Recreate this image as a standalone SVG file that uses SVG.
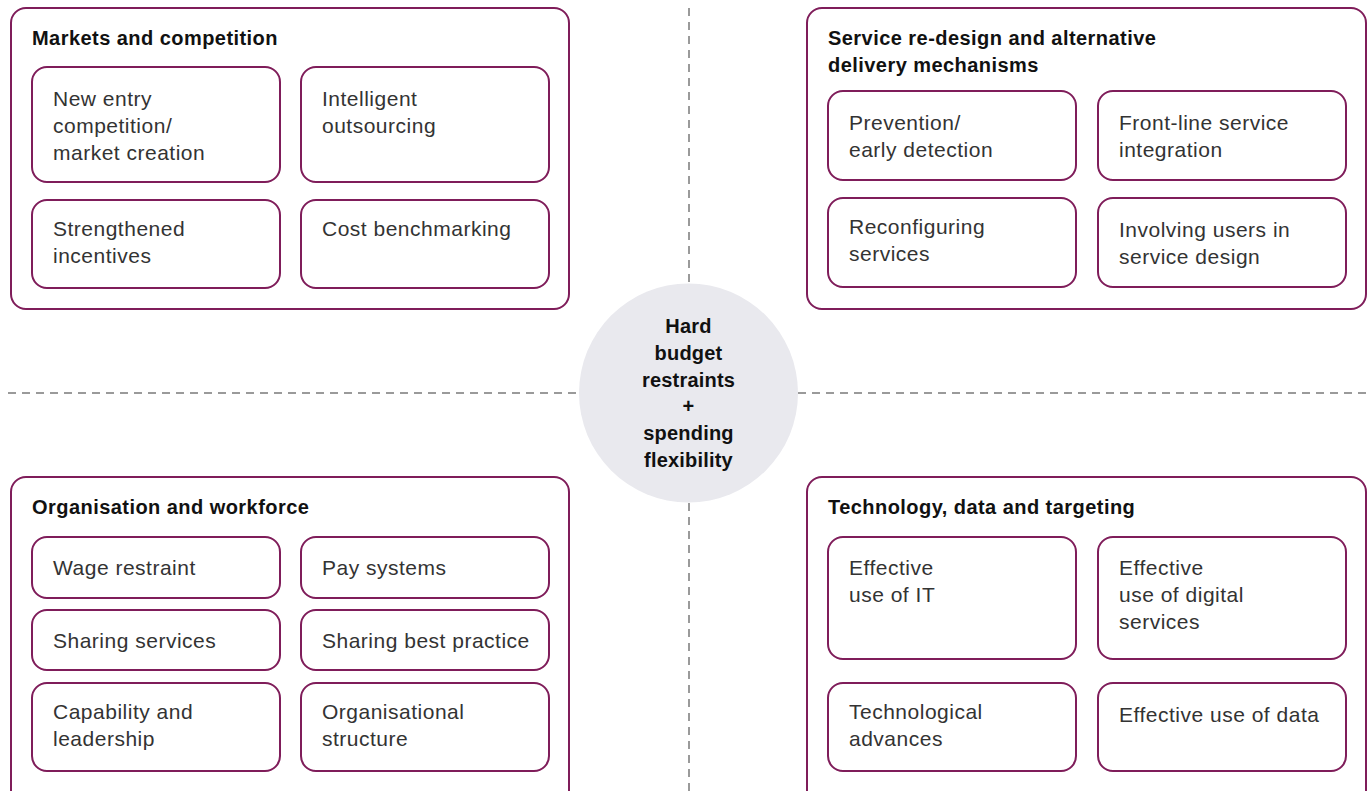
<svg xmlns="http://www.w3.org/2000/svg" width="1372" height="791" viewBox="0 0 1372 791">
  <style>
    .panel { fill: #ffffff; stroke: #7f1d5a; stroke-width: 2; }
    .item { fill: #ffffff; stroke: #7f1d5a; stroke-width: 2; }
    .head { font-family: "Liberation Sans", Arial, sans-serif; font-size: 20px; font-weight: bold; fill: #111111; letter-spacing: 0.45px; }
    .txt { font-family: "Liberation Sans", Arial, sans-serif; font-size: 21px; fill: #333333; letter-spacing: 0.5px; }
    .hub { font-family: "Liberation Sans", Arial, sans-serif; font-size: 20px; font-weight: bold; fill: #111111; text-anchor: middle; letter-spacing: 0.2px; }
    .divider { stroke: #7a7a7a; stroke-width: 1.5; stroke-dasharray: 8 6; fill: none; }
  </style>

  <rect width="1372" height="791" fill="#ffffff"/>

  <!-- dashed quadrant dividers -->
  <g id="connectors">
    <line class="divider" x1="8" y1="393" x2="580" y2="393"/>
    <line class="divider" x1="798" y1="393" x2="1372" y2="393"/>
    <line class="divider" x1="689" y1="8" x2="689" y2="284"/>
    <line class="divider" x1="689" y1="503" x2="689" y2="791"/>
  </g>

  <!-- top-left quadrant -->
  <g id="markets">
    <rect class="panel" x="11" y="8" width="558" height="301" rx="15"/>
    <text class="head" x="32" y="45">Markets and competition</text>
    <g id="new-entry">
      <rect class="item" x="32" y="67" width="248" height="115" rx="15"/>
      <text class="txt" x="53" y="106">New entry</text>
      <text class="txt" x="53" y="133">competition/</text>
      <text class="txt" x="53" y="160">market creation</text>
    </g>
    <g id="outsourcing">
      <rect class="item" x="301" y="67" width="248" height="115" rx="15"/>
      <text class="txt" x="322" y="106">Intelligent</text>
      <text class="txt" x="322" y="133">outsourcing</text>
    </g>
    <g id="incentives">
      <rect class="item" x="32" y="200" width="248" height="88" rx="15"/>
      <text class="txt" x="53" y="236">Strengthened</text>
      <text class="txt" x="53" y="263">incentives</text>
    </g>
    <g id="benchmarking">
      <rect class="item" x="301" y="200" width="248" height="88" rx="15"/>
      <text class="txt" x="322" y="236">Cost benchmarking</text>
    </g>
  </g>

  <!-- top-right quadrant -->
  <g id="service-redesign">
    <rect class="panel" x="807" y="8" width="559" height="301" rx="15"/>
    <text class="head" x="828" y="45">Service re-design and alternative</text>
    <text class="head" x="828" y="72">delivery mechanisms</text>
    <g id="prevention">
      <rect class="item" x="828" y="91" width="248" height="89" rx="15"/>
      <text class="txt" x="849" y="130">Prevention/</text>
      <text class="txt" x="849" y="157">early detection</text>
    </g>
    <g id="front-line">
      <rect class="item" x="1098" y="91" width="248" height="89" rx="15"/>
      <text class="txt" x="1119" y="130">Front-line service</text>
      <text class="txt" x="1119" y="157">integration</text>
    </g>
    <g id="reconfiguring">
      <rect class="item" x="828" y="198" width="248" height="89" rx="15"/>
      <text class="txt" x="849" y="234">Reconfiguring</text>
      <text class="txt" x="849" y="261">services</text>
    </g>
    <g id="involving-users">
      <rect class="item" x="1098" y="198" width="248" height="89" rx="15"/>
      <text class="txt" x="1119" y="237">Involving users in</text>
      <text class="txt" x="1119" y="264">service design</text>
    </g>
  </g>

  <!-- bottom-left quadrant -->
  <g id="organisation">
    <rect class="panel" x="11" y="477" width="558" height="330" rx="15"/>
    <text class="head" x="32" y="514">Organisation and workforce</text>
    <g id="wage">
      <rect class="item" x="32" y="537" width="248" height="61" rx="15"/>
      <text class="txt" x="53" y="575">Wage restraint</text>
    </g>
    <g id="pay">
      <rect class="item" x="301" y="537" width="248" height="61" rx="15"/>
      <text class="txt" x="322" y="575">Pay systems</text>
    </g>
    <g id="sharing-services">
      <rect class="item" x="32" y="610" width="248" height="60" rx="15"/>
      <text class="txt" x="53" y="648">Sharing services</text>
    </g>
    <g id="best-practice">
      <rect class="item" x="301" y="610" width="248" height="60" rx="15"/>
      <text class="txt" x="322" y="648">Sharing best practice</text>
    </g>
    <g id="capability">
      <rect class="item" x="32" y="683" width="248" height="88" rx="15"/>
      <text class="txt" x="53" y="719">Capability and</text>
      <text class="txt" x="53" y="746">leadership</text>
    </g>
    <g id="structure">
      <rect class="item" x="301" y="683" width="248" height="88" rx="15"/>
      <text class="txt" x="322" y="719">Organisational</text>
      <text class="txt" x="322" y="746">structure</text>
    </g>
  </g>

  <!-- bottom-right quadrant -->
  <g id="technology">
    <rect class="panel" x="807" y="477" width="559" height="330" rx="15"/>
    <text class="head" x="828" y="514">Technology, data and targeting</text>
    <g id="use-of-it">
      <rect class="item" x="828" y="537" width="248" height="122" rx="15"/>
      <text class="txt" x="849" y="575">Effective</text>
      <text class="txt" x="849" y="602">use of IT</text>
    </g>
    <g id="digital">
      <rect class="item" x="1098" y="537" width="248" height="122" rx="15"/>
      <text class="txt" x="1119" y="575">Effective</text>
      <text class="txt" x="1119" y="602">use of digital</text>
      <text class="txt" x="1119" y="629">services</text>
    </g>
    <g id="advances">
      <rect class="item" x="828" y="683" width="248" height="88" rx="15"/>
      <text class="txt" x="849" y="719">Technological</text>
      <text class="txt" x="849" y="746">advances</text>
    </g>
    <g id="data">
      <rect class="item" x="1098" y="683" width="248" height="88" rx="15"/>
      <text class="txt" x="1119" y="722">Effective use of data</text>
    </g>
  </g>

  <!-- central hub -->
  <g id="hub">
    <circle cx="688.5" cy="393" r="109.5" fill="#e9e9ee"/>
    <text class="hub" x="688.5" y="333">Hard</text>
    <text class="hub" x="688.5" y="360">budget</text>
    <text class="hub" x="688.5" y="387">restraints</text>
    <text class="hub" x="688.5" y="413">+</text>
    <text class="hub" x="688.5" y="440">spending</text>
    <text class="hub" x="688.5" y="467">flexibility</text>
  </g>
</svg>
